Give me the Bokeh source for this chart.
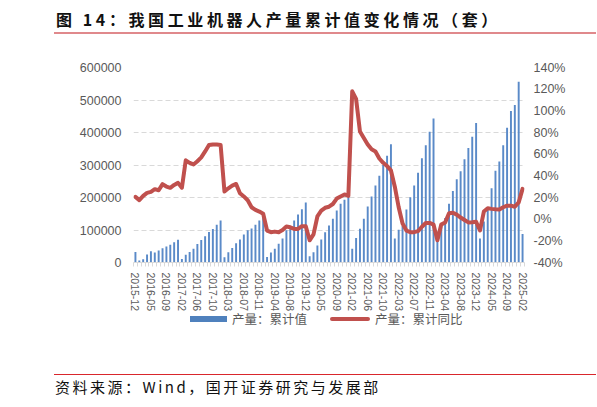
from bokeh.plotting import figure
from bokeh.models import Range1d, LinearAxis, FixedTicker, ColumnDataSource, Div
from bokeh.layouts import column
from bokeh.embed import file_html
from bokeh.resources import INLINE

# months (no January: Jan-Feb are reported together)
MONTHS = (["2015-12"]
          + ["%d-%02d" % (y, m) for y in range(2016, 2025) for m in range(2, 13)]
          + ["2025-02"])

# cumulative output, sets
prod_2015 = [32000]
prod_2016 = [6000, 10000, 24500, 35000, 30600, 37000, 44000, 49000, 55000, 62000, 70000]
prod_2017 = [11000, 23500, 32600, 42000, 57000, 69000, 80600, 94000, 103000, 116000, 129600]
prod_2018 = [16000, 31600, 45000, 59000, 70500, 86000, 99000, 105000, 116500, 129500, 147000]
prod_2019 = [17000, 30600, 42500, 58000, 73500, 99000, 109000, 129600, 148000, 164000, 184700]
prod_2020 = [19400, 31600, 52000, 70400, 93300, 114000, 134400, 160000, 180500, 193000, 205000]
prod_2021 = [42500, 75500, 103600, 134500, 172000, 203000, 236700, 267000, 300000, 328600, 364000]
prod_2022 = [73500, 101000, 112000, 163000, 201000, 236700, 276500, 321000, 361000, 402000, 443000]
prod_2023 = [66000, 110000, 137000, 180500, 220000, 256000, 280600, 318000, 352000, 386700, 429600]
prod_2024 = [73500, 126000, 168000, 228600, 282600, 311000, 361000, 415000, 466000, 484700, 556000]
prod_2025 = [88000]

# cumulative year-on-year, %
yoy_2015 = [20.6]
yoy_2016 = [17.6, 21.5, 24.3, 25.2, 27.7, 26.7, 32.3, 30.1, 28.9, 31.6, 33.5]
yoy_2017 = [29.0, 54.3, 52.0, 50.5, 53.5, 57.0, 62.5, 68.4, 69.0, 69.0, 68.5]
yoy_2018 = [25.5, 28.5, 31.0, 32.5, 24.0, 21.0, 17.5, 11.0, 8.5, 7.0, 5.0]
yoy_2019 = [-10.5, -12.0, -11.5, -12.0, -10.0, -6.8, -7.5, -9.0, -9.0, -6.5, -6.5]
yoy_2020 = [-19.5, -14.0, 2.5, 7.8, 10.5, 11.5, 14.0, 19.0, 21.0, 22.8, 21.5]
yoy_2021 = [118.0, 111.0, 81.0, 75.0, 69.0, 64.5, 62.5, 56.0, 52.0, 49.0, 45.0]
yoy_2022 = [30.0, 11.0, -4.0, -10.5, -12.0, -12.0, -11.0, -7.0, -3.5, -3.5, -5.0]
yoy_2023 = [-19.5, -5.0, -3.0, 5.5, 6.0, 4.2, 1.5, -0.8, -3.0, -2.8, -2.4]
yoy_2024 = [-10.5, 7.0, 10.0, 9.5, 9.2, 9.0, 11.0, 12.5, 12.5, 11.5, 15.5]
yoy_2025 = [28.0]

LEFT_TICKS = [0, 100000, 200000, 300000, 400000, 500000, 600000]
RIGHT_TICKS = [-40, -20, 0, 20, 40, 60, 80, 100, 120, 140]

TITLE = "图 14：我国工业机器人产量累计值变化情况（套）"
SOURCE_NOTE = "资料来源：Wind，国开证券研究与发展部"
SERIES_NAMES = ["产量：累计值", "产量：累计同比"]

BAR_COLOR = "#5a8ac8"
KEY_BAR_COLOR = "#4f81bd"
LINE_COLOR = "#c0504d"
TEXT_COLOR = "#595959"
GRID_COLOR = "#d9d9d9"
CJK = "Noto Sans CJK SC"
LATIN = "Liberation Sans"

PAGE_W = 596
HEAD_H = 34
FRAME_L, FRAME_W, FRAME_T, FRAME_H, AXIS_B = 133, 391, 33, 195, 46
MAIN_H = FRAME_T + FRAME_H + AXIS_B
FOOT_H = 406 - HEAD_H - MAIN_H

prod = (prod_2015 + prod_2016 + prod_2017 + prod_2018 + prod_2019 + prod_2020
        + prod_2021 + prod_2022 + prod_2023 + prod_2024 + prod_2025)
yoy = (yoy_2015 + yoy_2016 + yoy_2017 + yoy_2018 + yoy_2019 + yoy_2020
       + yoy_2021 + yoy_2022 + yoy_2023 + yoy_2024 + yoy_2025)
idx = list(range(len(MONTHS)))

source = ColumnDataSource(dict(x=idx, prod=prod, yoy=yoy, month=MONTHS))

# header with pink rule
head = Div(text=TITLE, width=PAGE_W - 54, height=HEAD_H, margin=(0, 0, 0, 54),
           styles={"font-family": "'%s', sans-serif" % CJK, "font-size": "16px",
                   "font-weight": "bold", "letter-spacing": "3.6px", "color": "#111111",
                   "line-height": "22px", "padding": "8px 0 2px 2px",
                   "border-bottom": "2px solid #e0898c", "box-sizing": "border-box",
                   "white-space": "nowrap", "overflow": "hidden"})

# main chart
p = figure(frame_width=FRAME_W, frame_height=FRAME_H, output_backend="svg",
           toolbar_location=None, tools="",
           x_range=Range1d(-0.5, len(MONTHS) - 0.5), y_range=Range1d(0, 600000),
           min_border_left=FRAME_L, min_border_right=PAGE_W - FRAME_L - FRAME_W,
           min_border_top=FRAME_T, min_border_bottom=AXIS_B)
p.extra_y_ranges = {"pct": Range1d(-40, 140)}
p.outline_line_color = None

p.vbar(x="x", top="prod", width=0.5, source=source,
       fill_color=BAR_COLOR, line_color=None)
p.line(x="x", y="yoy", source=source, y_range_name="pct",
       line_color=LINE_COLOR, line_width=4, line_join="round", line_cap="round")

# x axis: every 4th month labelled, small ticks between categories
label_ticks = idx[::4]
xax = p.xaxis[0]
xax.ticker = FixedTicker(ticks=label_ticks,
                         minor_ticks=[i - 0.5 for i in range(len(MONTHS) + 1)])
xax.major_label_overrides = {i: MONTHS[i] for i in label_ticks}
xax.major_label_orientation = "vertical"
xax.major_label_text_font = LATIN
xax.major_label_text_font_size = "10.5px"
xax.major_label_text_color = TEXT_COLOR
xax.major_label_standoff = 6
xax.major_tick_out = 0
xax.major_tick_in = 0
xax.minor_tick_out = 4
xax.minor_tick_in = 0
xax.minor_tick_line_color = GRID_COLOR
xax.axis_line_color = GRID_COLOR

yax = p.yaxis[0]
yax.ticker = FixedTicker(ticks=LEFT_TICKS)
yax.major_label_overrides = {v: str(v) for v in LEFT_TICKS}
yax.axis_line_color = None
yax.major_tick_line_color = None
yax.minor_tick_line_color = None
yax.major_tick_out = 0
yax.major_label_standoff = 12
yax.major_label_text_font = LATIN
yax.major_label_text_font_size = "12.5px"
yax.major_label_text_color = TEXT_COLOR

rax = LinearAxis(y_range_name="pct", ticker=FixedTicker(ticks=RIGHT_TICKS))
rax.major_label_overrides = {v: "%d%%" % v for v in RIGHT_TICKS}
rax.axis_line_color = None
rax.major_tick_line_color = None
rax.minor_tick_line_color = None
rax.major_tick_out = 0
rax.major_label_standoff = 9
rax.major_label_text_font = LATIN
rax.major_label_text_font_size = "12.5px"
rax.major_label_text_color = TEXT_COLOR
p.add_layout(rax, "right")

p.xgrid.grid_line_color = None
p.ygrid.grid_line_color = GRID_COLOR
p.ygrid.grid_line_dash = "5 3"
p.ygrid.grid_line_width = 1
p.ygrid.ticker = FixedTicker(ticks=LEFT_TICKS[1:])

# footer: key, red rule and source note
key_text = ("position:absolute;top:-4px;font-size:12.5px;line-height:18px;"
            "color:%s;white-space:nowrap;" % TEXT_COLOR)
foot_html = (
    '<div style="position:relative;width:%dpx;height:%dpx;'
    'font-family:\'%s\',sans-serif;">' % (PAGE_W, FOOT_H, CJK)
    + '<span style="position:absolute;left:190px;top:2px;width:37px;height:6px;'
      'background:%s;"></span>' % KEY_BAR_COLOR
    + '<span style="left:232px;%s">%s</span>' % (key_text, SERIES_NAMES[0])
    + '<span style="position:absolute;left:330px;top:3px;width:40px;height:4px;'
      'border-radius:2px;background:%s;"></span>' % LINE_COLOR
    + '<span style="left:375px;%s">%s</span>' % (key_text, SERIES_NAMES[1])
    + '<div style="position:absolute;left:54px;top:60px;width:%dpx;height:0;'
      'border-top:1px solid #d9262c;"></div>' % (PAGE_W - 54)
    + '<span style="position:absolute;left:55px;top:62px;font-size:15px;'
      'line-height:22px;letter-spacing:2.5px;color:#111111;white-space:nowrap;">'
      '%s</span>' % SOURCE_NOTE
    + '</div>')
foot = Div(text=foot_html, width=PAGE_W, height=FOOT_H, margin=0)

layout = column(head, p, foot, spacing=0)

open("out.html", "w").write(file_html(layout, INLINE))
